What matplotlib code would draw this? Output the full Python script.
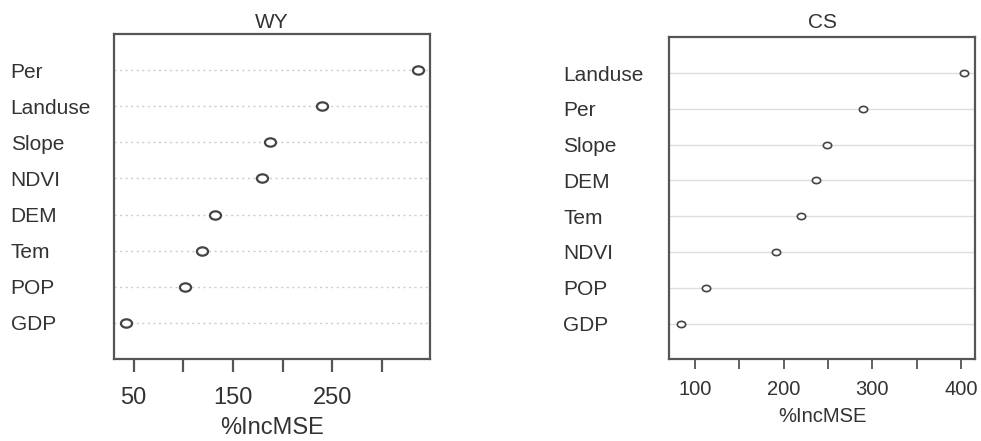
import matplotlib
matplotlib.use("Agg")
import matplotlib.pyplot as plt
import matplotlib.transforms as mtrans
from matplotlib.path import Path

plt.rcParams['font.family'] = ['Liberation Sans', 'DejaVu Sans']

# WY panel (top to bottom)
wy_vars = ["Per", "Landuse", "Slope", "NDVI", "DEM", "Tem", "POP", "GDP"]
wy_vals = [336.7, 240, 187.6, 179, 131.6, 119, 101.4, 42]
wy_ticks = [50, 100, 150, 200, 250, 300]
wy_ticklabels = ["50", "", "150", "", "250", ""]

# CS panel (top to bottom)
cs_vars = ["Landuse", "Per", "Slope", "DEM", "Tem", "NDVI", "POP", "GDP"]
cs_vals = [403, 289, 249.3, 236.4, 220.2, 191, 113, 84]
cs_ticks = [100, 150, 200, 250, 300, 350, 400]
cs_ticklabels = ["100", "", "200", "", "300", "", "400"]

TXT = "#333333"
EDGE = "#555555"

# slightly flattened open circle, like the stretched R output
ellipse = Path.unit_circle().transformed(mtrans.Affine2D().scale(1, 0.75))


def dotchart(ax, names, vals, ticks, ticklabels, title, cfg):
    n = len(names)
    ypos = list(range(n, 0, -1))
    lo, hi = min(vals), max(vals)
    span = hi - lo
    ax.set_xlim(lo - 0.04 * span, hi + 0.04 * span)
    ax.set_ylim(0, n + 1)
    for y in ypos:
        ax.axhline(y, color=cfg["grid_color"], lw=1.0, ls=cfg["grid_ls"], zorder=1)
    ax.plot(vals, ypos, ls="none", marker=ellipse, ms=cfg["ms"], mfc="white",
            mec="#444444", mew=cfg["mew"], zorder=3)
    ax.set_yticks(ypos)
    ax.set_yticklabels(names, fontsize=cfg["ylab_fs"], color=TXT, ha="left")
    ax.tick_params(axis="y", length=0, pad=cfg["ylab_pad"])
    ax.set_xticks(ticks)
    ax.set_xticklabels(ticklabels, fontsize=cfg["xt_fs"], color=TXT)
    ax.tick_params(axis="x", direction="out", length=cfg["tick_len"], width=cfg["tick_w"],
                   color=EDGE, pad=cfg["xt_pad"])
    ax.set_xlabel("%IncMSE", fontsize=cfg["xt_fs"], color=TXT, labelpad=cfg["xl_pad"])
    ax.set_title(title, fontsize=cfg["title_fs"], color=TXT, pad=cfg["title_pad"])
    for s in ax.spines.values():
        s.set_color(EDGE)
        s.set_linewidth(1.6)


fig = plt.figure(figsize=(9.81, 4.41), dpi=100)
fig.patch.set_facecolor("white")

ax1 = fig.add_axes([114 / 981, 1 - 359 / 441, 316 / 981, 325 / 441])
dotchart(ax1, wy_vars, wy_vals, wy_ticks, wy_ticklabels, "WY",
         dict(grid_color="#cccccc", grid_ls=(0, (1.5, 2.5)), ms=8.0, mew=1.6,
              ylab_fs=15, ylab_pad=74.4, xt_fs=17, tick_len=9.5, tick_w=1.6,
              xt_pad=10.5, xl_pad=6, title_fs=15, title_pad=4.3))

ax2 = fig.add_axes([669.3 / 981, 1 - 359.3 / 441, 305.7 / 981, 322 / 441])
dotchart(ax2, cs_vars, cs_vals, cs_ticks, cs_ticklabels, "CS",
         dict(grid_color="#dedede", grid_ls="-", ms=6.0, mew=1.2,
              ylab_fs=15, ylab_pad=76.3, xt_fs=14.5, tick_len=7.2, tick_w=1.3,
              xt_pad=8, xl_pad=5.5, title_fs=15, title_pad=6.5))

fig.savefig("out.png", dpi=100)
